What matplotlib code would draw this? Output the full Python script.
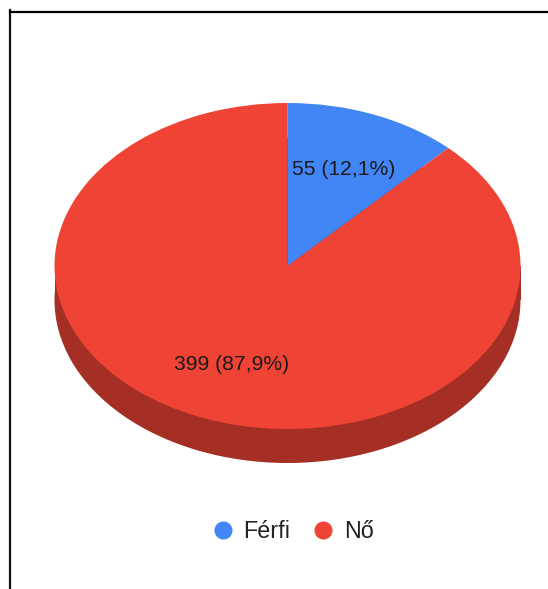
import matplotlib
matplotlib.use("Agg")
import matplotlib.pyplot as plt
from matplotlib.lines import Line2D
from matplotlib.patches import Rectangle

plt.rcParams['font.family'] = ['Liberation Sans', 'DejaVu Sans']

categories = ["Férfi", "Nő"]
values = [55, 399]
percent_labels = ["12,1%", "87,9%"]
colors = ["#4285F4", "#EE4335"]
side_color = "#A52F25"

W, H = 548, 589
CX, CY, RX, RY, DEPTH = 287.5, 266, 233, 163, 34

fig = plt.figure(figsize=(W / 100, H / 100), dpi=100, facecolor="white")
ax = fig.add_axes([0, 0, 1, 1])

# side wall of the tilted pie
d = DEPTH / RY
ax.pie([sum(values)], colors=[side_color], radius=1, center=(0, -d), startangle=90)
ax.add_patch(Rectangle((-1, -d), 2, d, facecolor=side_color, edgecolor="none", zorder=1))
# top face
wedges, _ = ax.pie(values, colors=colors, radius=1, center=(0, 0),
                   startangle=90, counterclock=False)
for w in wedges:
    w.set_zorder(2)

ax.set_aspect("auto")
ax.set_xlim((0 - CX) / RX, (W - CX) / RX)
ax.set_ylim((CY - H) / RY, CY / RY)
ax.axis("off")

# data labels
label_pos = [(343.5, 170), (231.5, 365)]
for (px, py), v, p in zip(label_pos, values, percent_labels):
    ax.text((px - CX) / RX, (CY - py) / RY, f"{v} ({p})", ha="center", va="center",
            fontsize=15.2, color="#1a1a1a", zorder=5)

# outer frame
fig.add_artist(Line2D([10 / W, 10 / W], [0, 1 - 10 / H], color="#111111", lw=1.6))
fig.add_artist(Line2D([9.5 / W, 1], [1 - 11.5 / H, 1 - 11.5 / H], color="black", lw=1.6))

# legend
handles = [Line2D([], [], linestyle="none", marker="o", markersize=13,
                  markerfacecolor=c, markeredgecolor="none") for c in colors]
fig.legend(handles, categories, loc="center", bbox_to_anchor=(290 / W, 1 - 532 / H),
           ncol=2, frameon=False, fontsize=16.8, labelcolor="#222222",
           handletextpad=0.18, columnspacing=0.7, borderpad=0, handlelength=1.4)

fig.savefig("out.png", dpi=100)
